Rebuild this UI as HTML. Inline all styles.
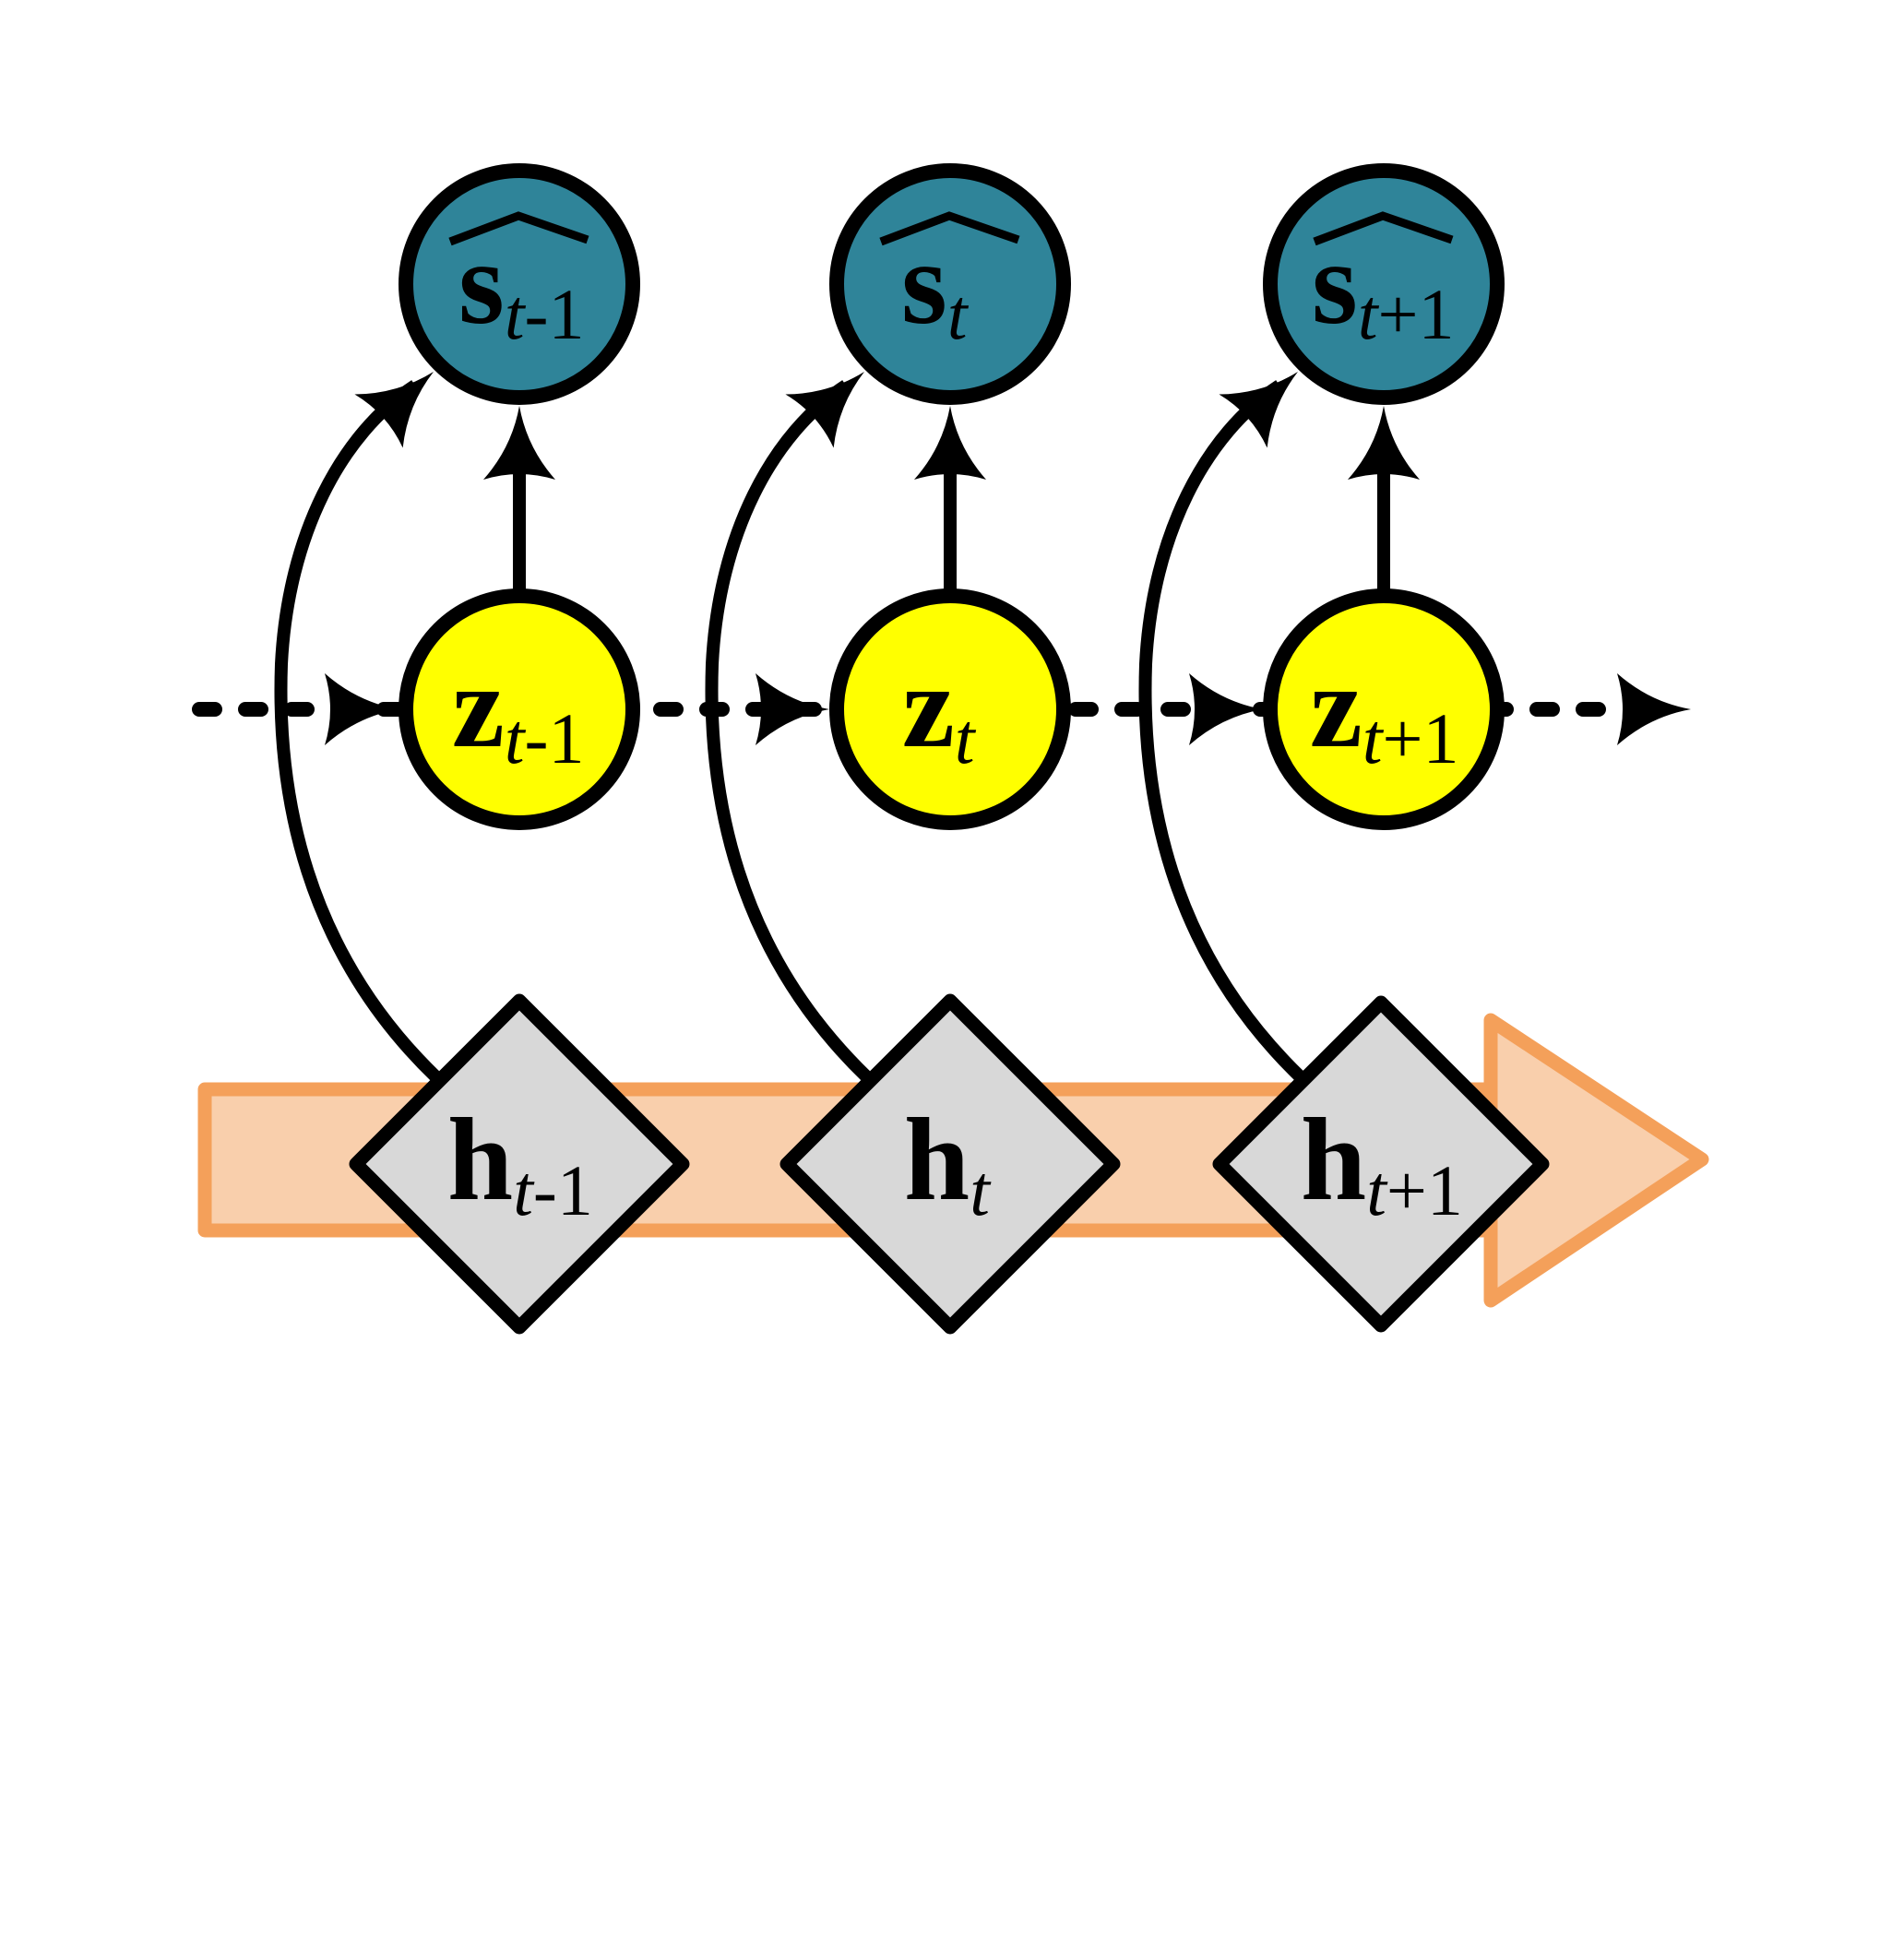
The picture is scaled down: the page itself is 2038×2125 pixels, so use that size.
<!DOCTYPE html>
<html><head><meta charset="utf-8"><style>html,body{margin:0;padding:0;background:#fff}svg{display:block}</style></head>
<body>
<svg width="2038" height="2125" viewBox="0 0 2038 2125" xmlns="http://www.w3.org/2000/svg">
<defs>
<path id="ah" d="M0,0 Q-45,-8 -80,-39 Q-68,0 -80,39 Q-45,8 0,0Z" fill="#000"/>
</defs>
<!-- orange band arrow -->
<rect x="222" y="1181" width="1420" height="153" fill="#f9cfac" stroke="#f4a05a" stroke-width="15" stroke-linejoin="round"/>
<polygon points="1616,1106 1845,1257 1616,1410" fill="#f9cfac" stroke="#f4a05a" stroke-width="15" stroke-linejoin="round"/>
<!-- dashed line -->
<line x1="216" y1="769" x2="1760" y2="769" stroke="#000" stroke-width="16" stroke-linecap="round" stroke-dasharray="17,33"/>
<use href="#ah" transform="translate(432,769)"/>
<use href="#ah" transform="translate(899,769)"/>
<use href="#ah" transform="translate(1369,769)"/>
<use href="#ah" transform="translate(1833,769)"/>
<!-- curves -->
<g fill="none" stroke="#000" stroke-width="14">
<path d="M473,1168 C330,1030 300,860 305,720 C312,580 370,470 450,418"/>
<path d="M940,1168 C797,1030 767,860 772,720 C779,580 837,470 917,418"/>
<path d="M1410,1168 C1267,1030 1237,860 1242,720 C1249,580 1307,470 1387,418"/>
<!-- vertical -->
<line x1="563" y1="640" x2="563" y2="500"/>
<line x1="1030" y1="640" x2="1030" y2="500"/>
<line x1="1500" y1="640" x2="1500" y2="500"/>
</g>
<use href="#ah" transform="translate(470,403) rotate(-42)"/>
<use href="#ah" transform="translate(937,403) rotate(-42)"/>
<use href="#ah" transform="translate(1407,403) rotate(-42)"/>
<use href="#ah" transform="translate(563,440) rotate(-90)"/>
<use href="#ah" transform="translate(1030,440) rotate(-90)"/>
<use href="#ah" transform="translate(1500,440) rotate(-90)"/>
<!-- s circles -->
<g fill="#2f8499" stroke="#000" stroke-width="16">
<circle cx="563" cy="308" r="123"/>
<circle cx="1030" cy="308" r="123"/>
<circle cx="1500" cy="308" r="123"/>
</g>
<g fill="none" stroke="#000" stroke-width="9">
<polyline points="488,262 562,234 637,260"/>
<polyline points="955,262 1029,234 1104,260"/>
<polyline points="1425,262 1499,234 1574,260"/>
</g>
<!-- z circles -->
<g fill="#ffff00" stroke="#000" stroke-width="16">
<circle cx="563" cy="769" r="123"/>
<circle cx="1030" cy="769" r="123"/>
<circle cx="1500" cy="769" r="123"/>
</g>
<!-- diamonds -->
<g fill="#d8d8d8" stroke="#000" stroke-width="15" stroke-linejoin="round">
<polygon points="563,1085 740,1262 563,1439 386,1262"/>
<polygon points="1030,1085 1207,1262 1030,1439 853,1262"/>
<polygon points="1497,1087 1672,1262 1497,1437 1322,1262"/>
</g>
<g font-family="Liberation Serif, serif" fill="#000">
<text x="497" y="350" font-size="128" font-weight="bold">s<tspan font-size="78" font-weight="normal" dy="17"><tspan font-style="italic">t</tspan>-1</tspan></text>
<text x="977" y="350" font-size="128" font-weight="bold">s<tspan font-size="78" font-weight="normal" dy="17" font-style="italic">t</tspan></text>
<text x="1422" y="350" font-size="128" font-weight="bold">s<tspan font-size="78" font-weight="normal" dy="17"><tspan font-style="italic">t</tspan>+1</tspan></text>
<text x="490" y="809" font-size="128" font-weight="bold">z<tspan font-size="78" font-weight="normal" dy="18"><tspan font-style="italic">t</tspan>-1</tspan></text>
<text x="978" y="809" font-size="128" font-weight="bold">z<tspan font-size="78" font-weight="normal" dy="18" font-style="italic">t</tspan></text>
<text x="1420" y="809" font-size="128" font-weight="bold">z<tspan font-size="78" font-weight="normal" dy="18"><tspan font-style="italic">t</tspan>+1</tspan></text>
<text x="485" y="1300" font-size="128" font-weight="bold">h<tspan font-size="78" font-weight="normal" dy="17"><tspan font-style="italic">t</tspan>-1</tspan></text>
<text x="980" y="1300" font-size="128" font-weight="bold">h<tspan font-size="78" font-weight="normal" dy="17" font-style="italic">t</tspan></text>
<text x="1410" y="1300" font-size="128" font-weight="bold">h<tspan font-size="78" font-weight="normal" dy="17"><tspan font-style="italic">t</tspan>+1</tspan></text>
</g>
</svg>
</body></html>
